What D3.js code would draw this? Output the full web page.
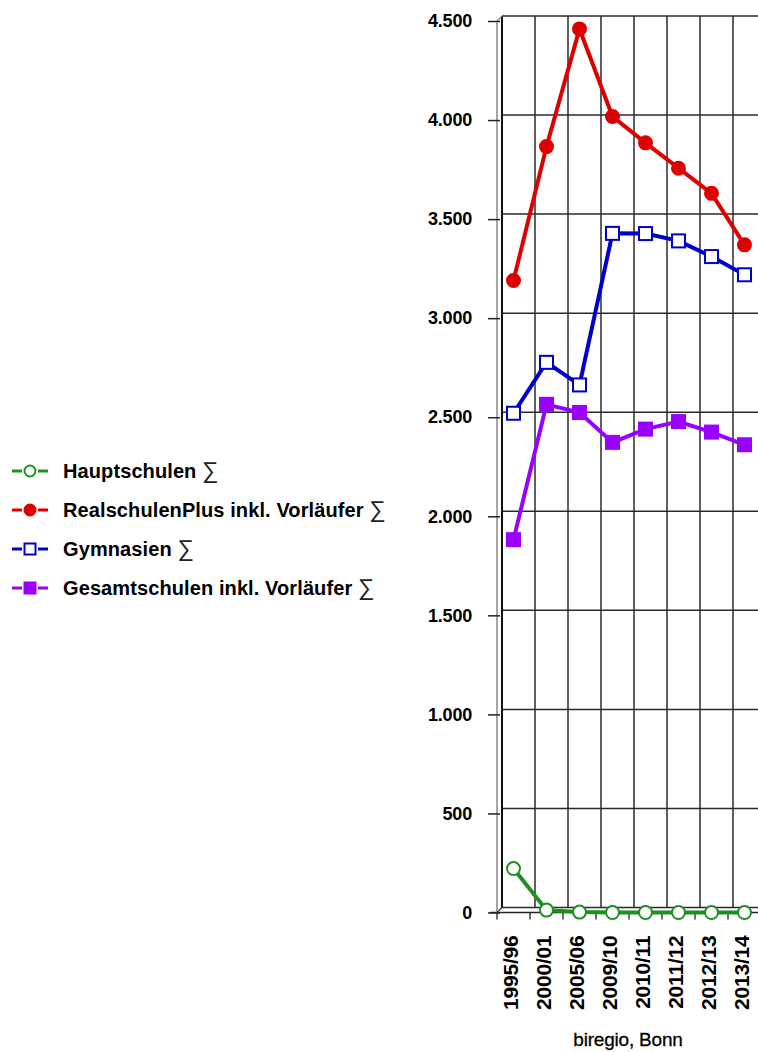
<!doctype html>
<html>
<head>
    <meta charset="utf-8">
    <title>Schüler nach Schulart</title>
    <style>
        body { margin: 0; background: #fff; }
        svg { display: block; font-family: "Liberation Sans", Arial, sans-serif; }
    </style>
    <script src="https://d3js.org/d3.v7.min.js"></script>
</head>
<body>
<svg width="758" height="1052"></svg>
<script>
    // chart data
    var years = ["1995/96", "2000/01", "2005/06", "2009/10", "2010/11", "2011/12", "2012/13", "2013/14"];
    var yTicks = [0, 500, 1000, 1500, 2000, 2500, 3000, 3500, 4000, 4500];

    var hauptschulen = [222, 12, 2, 0, 0, 0, 0, 0];
    var realschulen  = [3190, 3866, 4460, 4018, 3885, 3757, 3630, 3370];
    var gymnasien    = [2520, 2777, 2663, 3428, 3427, 3390, 3311, 3219];
    var gesamtschulen = [1882, 2565, 2524, 2373, 2440, 2478, 2425, 2361];

    var seriesNames = ["Hauptschulen", "RealschulenPlus inkl. Vorläufer", "Gymnasien", "Gesamtschulen inkl. Vorläufer"];

    var series = [
        { name: seriesNames[0], values: hauptschulen, color: "#1f8f1f", marker: "circle", fill: false },
        { name: seriesNames[1], values: realschulen, color: "#dd0000", marker: "circle", fill: true },
        { name: seriesNames[2], values: gymnasien, color: "#0000cc", marker: "square", fill: false },
        { name: seriesNames[3], values: gesamtschulen, color: "#9900ff", marker: "square", fill: true }
    ];

    var svg = d3.select("svg");
    var x0 = 497, bandW = 33;
    var dx = 5, dy = -5;   // depth offset of the back wall

    var x = d3.scaleBand().domain(years).range([x0, x0 + bandW * years.length]);
    var y = d3.scaleLinear().domain([0, 4500]).range([912.5, 21]);

    var grid = svg.append("g").attr("stroke", "#2a2a2a").attr("stroke-width", 1.5);

    // back wall horizontal lines
    grid.selectAll(".h").data(yTicks).enter().append("line")
        .attr("x1", x0 + dx).attr("x2", 770)
        .attr("y1", function(d) { return y(d) + dy; })
        .attr("y2", function(d) { return y(d) + dy; });

    // back wall vertical lines
    grid.selectAll(".v").data(years.concat(["end"])).enter().append("line")
        .attr("x1", function(d, i) { return x0 + dx + i * bandW; })
        .attr("x2", function(d, i) { return x0 + dx + i * bandW; })
        .attr("y1", y(4500) + dy).attr("y2", y(0) + dy)
        .attr("stroke-width", function(d, i) { return i == 0 ? 2 : 1.5; })
        .attr("stroke", function(d, i) { return i == 0 ? "#111" : "#2a2a2a"; });

    // front axes
    svg.append("line").attr("x1", x0).attr("x2", x0).attr("y1", y(4500)).attr("y2", y(0))
        .attr("stroke", "#888").attr("stroke-width", 1.5);
    svg.append("line").attr("x1", x0).attr("x2", x0 + dx).attr("y1", y(0)).attr("y2", y(0) + dy)
        .attr("stroke", "#333").attr("stroke-width", 1.3);
    svg.append("line").attr("x1", x0).attr("x2", x0 + dx).attr("y1", y(4500)).attr("y2", y(4500) + dy)
        .attr("stroke", "#888").attr("stroke-width", 1.3);

    var yAxis = svg.append("g").attr("transform", "translate(" + (x0 + 3) + ",0)")
        .call(d3.axisLeft(y).tickValues(yTicks).tickSize(12).tickPadding(16)
            .tickFormat(function(d) { return d3.format(",")(d).replace(/,/g, "."); }));
    yAxis.select(".domain").remove();
    yAxis.selectAll(".tick line").attr("stroke", "#222").attr("stroke-width", 1.5);
    yAxis.selectAll("text").attr("font-size", 18).attr("font-weight", "bold")
        .attr("fill", "#000").attr("letter-spacing", -0.2);

    var xAxis = svg.append("g").attr("transform", "translate(0," + y(0) + ")")
        .call(d3.axisBottom(x).tickSize(0).tickPadding(0));
    xAxis.select(".domain").attr("d", "M490,0H770").attr("stroke", "#222").attr("stroke-width", 1.5);
    xAxis.selectAll(".tick text")
        .attr("transform", "translate(-3,23) rotate(-90)")
        .attr("text-anchor", "end").attr("dy", "0.35em").attr("x", 0).attr("y", 0)
        .attr("font-size", 21).attr("font-weight", "bold").attr("fill", "#000").attr("letter-spacing", -0.2);
    // x ticks at band edges
    xAxis.selectAll(".edge").data(years).enter().append("line")
        .attr("x1", function(d) { return x(d); }).attr("x2", function(d) { return x(d); })
        .attr("y1", 0).attr("y2", 7).attr("stroke", "#222").attr("stroke-width", 1.3);

    svg.append("text").attr("x", 628).attr("y", 1046).attr("text-anchor", "middle")
        .attr("font-size", 19).attr("letter-spacing", -0.2).attr("fill", "#000")
        .attr("stroke", "#000").attr("stroke-width", 0.3)
        .text("biregio, Bonn");

    // lines and markers
    var cx = function(d, i) { return x(years[i]) + bandW / 2; };
    var line = d3.line().x(cx).y(function(d) { return y(d); });

    function drawMarker(g, s, px, py, size) {
        if (s.marker == "circle") {
            g.append("circle").attr("cx", px).attr("cy", py).attr("r", size / 2)
                .attr("fill", s.fill ? s.color : "#fff").attr("stroke", s.color).attr("stroke-width", 2);
        } else {
            g.append("rect").attr("x", px - size / 2).attr("y", py - size / 2)
                .attr("width", size).attr("height", size)
                .attr("fill", s.fill ? s.color : "#fff").attr("stroke", s.color).attr("stroke-width", 2);
        }
    }

    series.forEach(function(s) {
        var g = svg.append("g");
        g.append("path").datum(s.values).attr("d", line)
            .attr("fill", "none").attr("stroke", s.color).attr("stroke-width", 4);
        s.values.forEach(function(v, i) {
            drawMarker(g, s, cx(v, i), y(v), 13);
        });
    });

    // legend
    var legend = svg.append("g");
    series.forEach(function(s, i) {
        var ly = 471 + i * 39;
        var row = legend.append("g");
        row.append("line").attr("x1", 12).attr("x2", 22).attr("y1", ly).attr("y2", ly)
            .attr("stroke", s.color).attr("stroke-width", 3);
        row.append("line").attr("x1", 38).attr("x2", 48).attr("y1", ly).attr("y2", ly)
            .attr("stroke", s.color).attr("stroke-width", 3);
        drawMarker(row, s, 30, ly, 11);
        var t = row.append("text").attr("x", 63).attr("y", ly + 7)
            .attr("font-size", 20).attr("font-weight", "bold").attr("fill", "#000").attr("letter-spacing", 0.1);
        t.append("tspan").text(s.name + " ");
        t.append("tspan").attr("font-weight", "normal").attr("font-size", 23).attr("fill", "#222").text("∑");
    });
</script>
</body>
</html>
